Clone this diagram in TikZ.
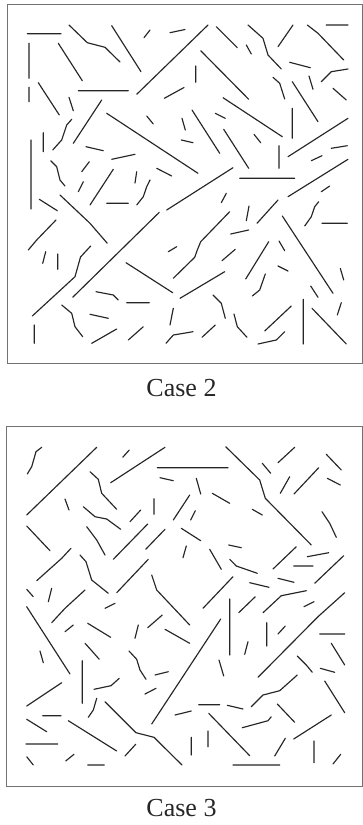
\documentclass[tikz,border=0pt]{standalone}
\usepackage{fontspec}
\setmainfont{Liberation Serif}
\begin{document}
\begin{tikzpicture}[x=1pt,y=-1pt,
  frac/.style={line width=1.15pt,draw=black!85,line cap=round,line join=round},
  frame/.style={line width=1pt,draw=black!55},
  caption/.style={anchor=base,font=\fontsize{26}{30}\selectfont,text=black!85,inner sep=0pt}]
\useasboundingbox (0,0) rectangle (363,825);
\fill[white] (0,0) rectangle (363,825);
% frames
\draw[frame] (7.3,4.3) rectangle (362.4,363);
\draw[frame] (6,426.7) rectangle (362.4,786);
\node[caption] (c2) at (181.5,396) {Case 2};
\node[caption] (c3) at (181.5,816) {Case 3};
% Case 2
\draw[frac]
(27.3,33.7)--(61,33.7)
(69,25)--(87.3,42.7)--(105,47.3)--(120,62)
(111.7,25.7)--(141,71.7)
(144,37.7)--(150,30)
(170,32.7)--(185,29.5)
(29,43.3)--(29,78.3)
(58.3,43.3)--(82.3,80.7)
(29,87.3)--(29,101.7)
(38.3,82.7)--(59.3,115)
(78.3,90.7)--(128.3,90.7)
(136.7,94.3)--(208,25)
(164.3,98.3)--(184,87.5)
(69,97.3)--(73.3,110.7)
(101.7,100)--(73.3,143.3)
(106.7,113.3)--(198,173.3)
(146.7,116)--(153.3,124)
(71.7,119.3)--(66.7,125)--(61.7,140)--(52.7,150)
(43.3,132.7)--(43.3,151.7)
(31,140)--(31,209)
(86,146.7)--(103.3,150.7)
(111.7,159.3)--(135,154.3)
(50.7,160.7)--(56.7,166.7)--(60,180)--(65,186)
(81.7,171.7)--(89.3,161.7)
(90,205)--(113.3,169.3)
(136.7,171.7)--(135,183)
(156.7,168.3)--(171.7,176)
(181.3,140)--(193,142.7)
(182,118.3)--(185.3,130)
(78.3,191.7)--(83.3,181.7)
(216.3,26.7)--(237.3,47.7)
(248,25)--(263,38.3)--(268,55)--(281.3,69)
(293,25)--(278,46.7)
(307.3,25)--(318,33.3)--(343.7,60)
(326.3,25)--(348,25)
(246.3,45)--(251.3,54)
(195.7,66)--(195.7,82.3)
(200.7,50.7)--(248.7,99.3)
(289.7,62.3)--(310.3,67.7)
(321.3,81.7)--(331.3,71.7)--(348,69)
(273,77.3)--(279.7,83.3)--(284.7,99)
(309,76)--(313,89.3)
(292.3,81.7)--(318,121.7)
(333,88.3)--(346.3,100)
(223,97.7)--(282.3,136.7)
(292.3,108.3)--(292.3,138.3)
(215.3,113.3)--(225.3,118.3)
(192,110)--(219.7,153.3)
(254,134.3)--(260.7,142.7)
(223.7,129.3)--(248.7,168.3)
(279,145.7)--(279,168.3)
(288,156.7)--(348,118.3)
(331.3,148.3)--(347.3,145.7)
(311.3,160.7)--(322,155.7)
(166.7,210)--(233,167.7)
(239.7,178.3)--(294.7,178.3)
(288,196.7)--(348,159.3)
(106.7,203.3)--(128.3,203.3)
(150,180)--(146.7,186.7)--(143.3,196.7)--(136.7,205)
(39.3,199.3)--(57.3,210.7)
(60,195)--(90,223.3)--(107.3,243.3)
(56,220)--(36.7,240)--(28.3,250)
(72.7,297.3)--(159.3,212.3)
(32.3,316)--(75,276.7)--(78,266)--(80.5,257)--(90.7,246)
(45.7,251.7)--(42.7,263.3)
(57.7,254)--(57.7,269.3)
(126,262.7)--(172.7,292.7)
(168.3,251.7)--(176.7,246.7)
(173.3,278.3)--(194.7,257.3)--(197.3,250)--(200.7,241.7)--(229.7,211.7)
(96,291.7)--(113.3,295)--(118.3,300)
(126.7,302.7)--(149.3,302.7)
(180,298.3)--(224.7,271.7)
(61.7,305)--(71.7,313.3)--(75,326.7)--(82.7,336.7)
(90,314.3)--(108.3,318.3)
(173.3,308.3)--(170,325)
(34.3,325)--(34.3,343.3)
(91.7,343.3)--(116.7,329)
(128.3,340)--(143.3,326.7)
(166,343.3)--(173.3,335)--(193,331.7)
(321.3,191.7)--(329.7,186)
(221.3,202.7)--(226.3,193.3)
(246.3,220.7)--(249,206)
(257,223.3)--(278,200)
(304.7,226)--(311.3,216.7)--(314.7,206.7)--(318.7,201.7)
(322,223.3)--(347.3,223.3)
(230.7,234)--(248.7,230)
(282.3,216)--(333,293.3)
(222,260.7)--(235.3,249.3)
(245.7,279)--(268.7,241.7)
(279,241)--(284.7,250.7)
(278,266)--(288,271)
(252.3,296)--(259.7,290)--(265.3,274)
(340.3,268.3)--(343.7,280)
(310.7,286)--(318,297.3)
(213,295)--(221.3,303.3)--(225.3,318.3)
(234,314)--(237.3,326.7)--(247,337.3)
(341.3,302.7)--(337.3,315)
(303.3,299.3)--(303.3,344)
(312,308.3)--(346.3,344)
(264.7,331)--(291.3,306)
(202,337.3)--(215.3,325)
(258,344)--(276.3,340)--(284.7,331.7);
% Case 3
\draw[frac]
(41.7,447.3)--(36,451.7)--(31.7,466.7)--(27.3,474)
(96.7,447.3)--(26.7,515)
(129.3,450)--(122.7,457.3)
(165,447.3)--(110.7,482.7)
(157.3,467.7)--(228,467.7)
(160,477.7)--(173.3,480.7)
(90,471.7)--(98.3,479.3)--(101.7,493.3)--(116.7,509.3)
(65,499)--(69,510)
(154,498.7)--(154,514.3)
(83.3,506.7)--(95,516.7)--(106.7,519)--(120.7,529.3)
(130,521.7)--(140.7,510)
(173.3,520)--(189.7,495)
(26.7,526)--(50,550.7)
(86.7,526.7)--(96.7,540)--(105,555)
(113.3,559.3)--(147.7,524)
(145.7,549.3)--(165,529.3)
(181.3,528.3)--(200.7,540.7)
(36.7,580.7)--(61.7,558.3)--(71,548.3)
(80,555)--(86,561.7)--(91.7,580)--(108.3,593.3)
(116.7,592.7)--(148.3,559.3)
(151.7,575)--(156.7,590)--(189.7,625)
(26.7,589.3)--(33.3,596.7)
(51.7,588.3)--(48.3,601.7)
(51.7,622.7)--(65,608.3)--(85,590)
(105,608.3)--(115,603.3)
(225.7,446.7)--(259.7,480)--(265.3,498.3)--(311.3,545)
(278,462.7)--(294.7,447.3)
(326.3,454.3)--(341.3,470)
(262.3,463.3)--(270.7,473.3)
(289.7,476.7)--(280.3,493.3)
(318.7,467.7)--(294,494)
(327.3,478.3)--(340.3,485)
(196.3,478.3)--(200.7,494)
(212.3,493.3)--(229.7,503.3)
(252.3,509.3)--(262.3,515)
(195.3,510.7)--(190.7,520)
(322,511.7)--(329.7,523.3)--(336.3,537.3)
(228.7,545)--(241.3,547.7)
(186.3,546)--(183,557.7)
(209.7,549.3)--(221.3,569.3)
(229.7,559.3)--(236.3,566)--(257.3,573.3)
(296.3,546.7)--(273,569)
(307.3,556.7)--(328.7,552.7)
(293.7,566)--(313,566)
(343.7,555.7)--(314.7,583.3)
(233,576.7)--(203,608.3)
(249.7,582.7)--(269,587.3)
(278,578.3)--(294,582.3)
(306.3,590.7)--(281.3,595.7)--(263,612.7)
(344.7,592.7)--(318,616.7)--(258,677.3)
(229.7,599)--(229.7,655)
(255.3,596.7)--(238.7,612.7)
(314,601.7)--(304,606.7)
(26.7,606.7)--(70,674)
(65,631.7)--(73.3,625)
(87.7,623.3)--(110.7,637.3)
(138.3,625)--(135,638.3)
(147.7,627.7)--(162.3,615)
(165,629.3)--(189.7,643.3)
(40,651)--(43.3,662.7)
(85,643.3)--(91.7,650.7)--(99.3,659.3)
(129,651)--(136.7,659.3)--(140,670)--(146,679.3)
(82.3,660.7)--(82.3,703.3)
(155,675)--(168.3,671.7)
(151.7,724)--(220.7,619)
(26.7,706)--(61.7,682.7)
(94,689.3)--(111,685.7)--(119.3,678.3)
(145,694)--(156,688.3)
(96.7,698.3)--(93.3,710)--(88.3,717.3)
(105,701.7)--(136,732.7)--(154,737.3)--(182,765)
(42.7,715.7)--(61,715.7)
(26.7,719.3)--(46.7,731.7)
(68.3,720.7)--(116.7,751)
(175,715)--(191.3,711)
(26,744)--(57.7,744)
(125,756)--(135.7,744.3)
(26.7,756.7)--(33.3,765)
(65.7,761)--(74,754.3)
(87.7,765)--(104.3,765)
(266.7,622.7)--(266.7,646)
(278,634)--(285.3,626)
(319.7,634)--(344.7,634)
(248,641.7)--(244.7,654.3)
(331.3,643.3)--(344.7,665)
(219,660)--(223.7,676)
(297.3,656)--(306.3,665)--(312.3,672.3)
(320.3,668.3)--(334.7,672.3)
(297.3,675)--(279.7,690.7)--(263,695)--(251.3,706.7)
(324.7,681)--(344.7,712.7)
(198.7,704.7)--(219.7,704.7)
(227.3,705.3)--(243,709)
(277.3,704)--(294.7,722.3)
(208.7,713.3)--(249.7,755.7)
(271.3,716.7)--(268,720.7)--(242.3,727.7)
(331.3,715)--(293.7,739)
(208,731)--(208,746.7)
(191.3,737.3)--(191.3,755)
(285.3,738.3)--(274.7,756)
(314,741)--(314,762.7)
(233,765)--(279.7,765)
(340.7,754.3)--(333,764);
\end{tikzpicture}
\end{document}
